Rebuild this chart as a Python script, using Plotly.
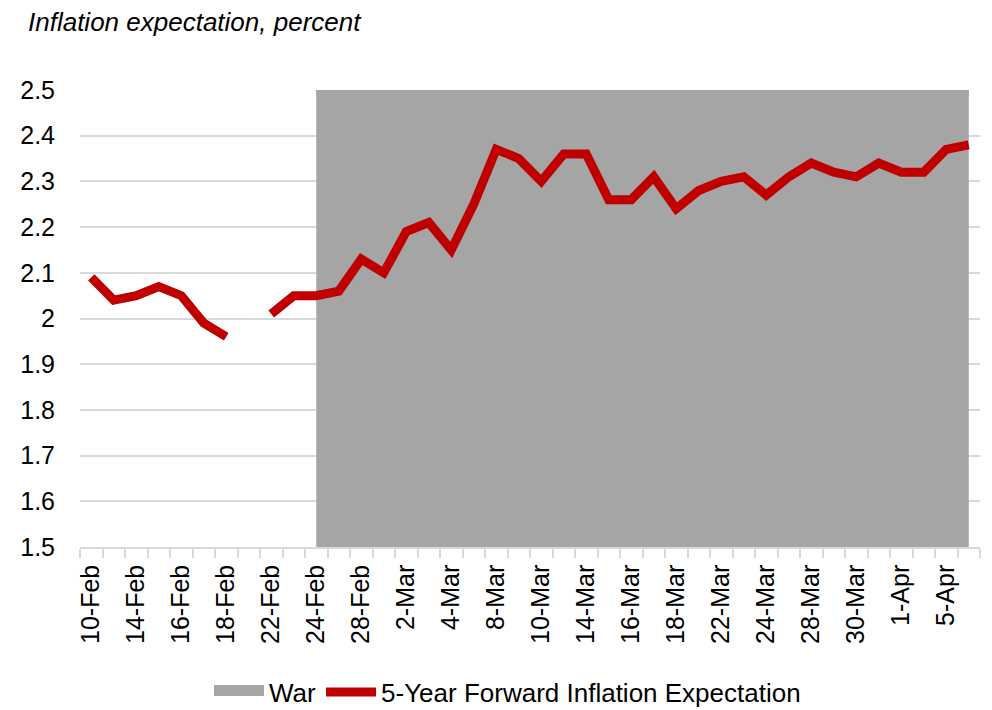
import plotly.graph_objects as go

# Business days on the category axis
dates = ["10-Feb", "11-Feb", "14-Feb", "15-Feb", "16-Feb", "17-Feb", "18-Feb", "21-Feb",
         "22-Feb", "23-Feb", "24-Feb", "25-Feb", "28-Feb", "1-Mar", "2-Mar", "3-Mar",
         "4-Mar", "7-Mar", "8-Mar", "9-Mar", "10-Mar", "11-Mar", "14-Mar", "15-Mar",
         "16-Mar", "17-Mar", "18-Mar", "21-Mar", "22-Mar", "23-Mar", "24-Mar", "25-Mar",
         "28-Mar", "29-Mar", "30-Mar", "31-Mar", "1-Apr", "4-Apr", "5-Apr", "6-Apr"]

# 5-Year forward inflation expectation (percent); None = no observation
inflation = [2.09, 2.04, 2.05, 2.07, 2.05, 1.99, 1.96, None,
             2.01, 2.05, 2.05, 2.06, 2.13, 2.10, 2.19, 2.21,
             2.15, 2.25, 2.37, 2.35, 2.30, 2.36, 2.36, 2.26,
             2.26, 2.31, 2.24, 2.28, 2.30, 2.31, 2.27, 2.31,
             2.34, 2.32, 2.31, 2.34, 2.32, 2.32, 2.37, 2.38]

# War shading (area up to 2.5 from 24-Feb onward)
war = [None] * 10 + [2.5] * 30

# Tick labels (every other category labelled)
x_ticklabels = [d if i % 2 == 0 else "" for i, d in enumerate(dates)]
y_tickvals = [1.5, 1.6, 1.7, 1.8, 1.9, 2.0, 2.1, 2.2, 2.3, 2.4, 2.5]
y_ticklabels = ["1.5", "1.6", "1.7", "1.8", "1.9", "2", "2.1", "2.2", "2.3", "2.4", "2.5"]

FONT = "Liberation Sans, Arial, sans-serif"
GRID = "#D9D9D9"
WAR_GRAY = "#A5A5A5"

# the page body adds an 8px offset; size the figure to fill the 992x710 window
W, H = 984, 702

war_x = [d for d, w in zip(dates, war) if w is not None]
war_y = [w for w in war if w is not None]

fig = go.Figure()
fig.add_trace(go.Scatter(
    x=war_x, y=war_y, name="War", mode="lines",
    line=dict(width=14, color=WAR_GRAY),
    fill="tozeroy", fillcolor=WAR_GRAY,
    hoverinfo="skip",
))
fig.add_trace(go.Scatter(
    x=dates, y=inflation, name="5-Year Forward Inflation Expectation",
    mode="lines", line=dict(color="#C00000", width=9),
    connectgaps=False,
))

fig.update_layout(
    width=W, height=H,
    margin=dict(l=72, r=12, t=82, b=163, autoexpand=False),
    paper_bgcolor="white", plot_bgcolor="white",
    font=dict(family=FONT, size=25, color="#000000"),
    title=dict(
        text="<i>Inflation expectation, percent</i>",
        x=20 / W, xanchor="left", xref="container",
        y=1 - 14 / H, yanchor="middle", yref="container",
        font=dict(family=FONT, size=26, color="#000000"),
    ),
    showlegend=True,
    legend=dict(
        orientation="h",
        x=0.475, xanchor="center", xref="paper",
        y=-(692 - 547) / 457, yanchor="middle", yref="paper",
        font=dict(family=FONT, size=26, color="#000000"),
        bgcolor="rgba(0,0,0,0)",
        traceorder="normal",
        itemwidth=50,
    ),
)

fig.update_xaxes(
    type="category",
    categoryorder="array", categoryarray=dates,
    range=[-0.5, len(dates) - 0.5],
    tickmode="array", tickvals=dates, ticktext=x_ticklabels,
    tickson="boundaries",
    ticks="outside", ticklen=9, tickwidth=1.5, tickcolor=GRID,
    tickangle=-90, ticklabelstandoff=6,
    showline=True, linecolor=GRID, linewidth=1.5,
    showgrid=False, zeroline=False, automargin=False,
    tickfont=dict(family=FONT, size=25, color="#000000"),
)

fig.update_yaxes(
    range=[1.5, 2.5],
    tickmode="array", tickvals=y_tickvals, ticktext=y_ticklabels,
    ticks="", ticklabelstandoff=24,
    showgrid=True, gridcolor=GRID, gridwidth=1.5,
    showline=False, zeroline=False, automargin=False,
    tickfont=dict(family=FONT, size=25, color="#000000"),
)

fig.write_html("out.html")
